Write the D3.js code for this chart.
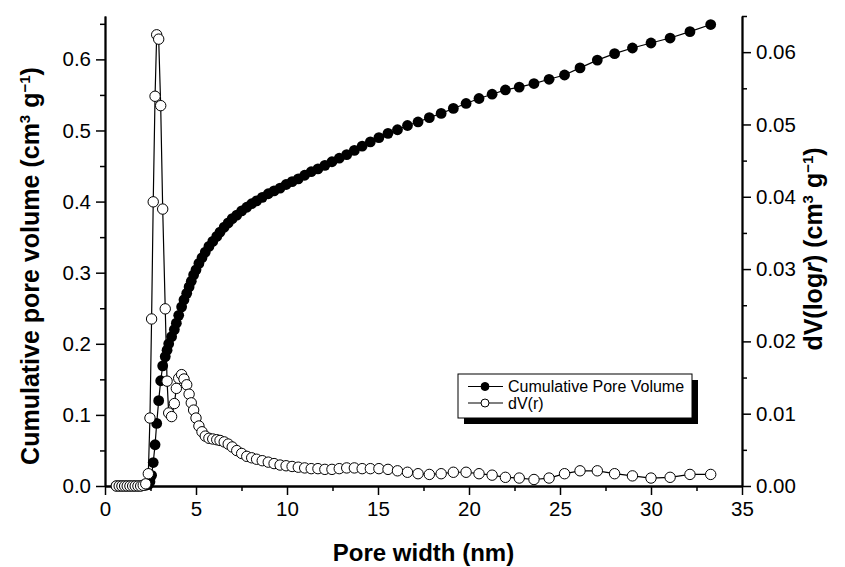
<!DOCTYPE html>
<html>
<head>
<meta charset="utf-8">
<script src="https://cdn.jsdelivr.net/npm/d3@7"></script>
<style>
  body { margin: 0; background: #fff; }
  text { font-family: "Liberation Sans", Arial, sans-serif; fill: #000; }
</style>
</head>
<body>
<div id="chart"></div>
<script>
// Pore width (nm), shared by both series
var poreWidth = [0.62, 0.78, 0.93, 1.08, 1.22, 1.37, 1.52, 1.66, 1.81, 1.96, 2.10, 2.24,
    2.38, 2.47, 2.56, 2.65, 2.75, 2.84, 2.95, 3.06, 3.17, 3.31, 3.41, 3.50, 3.66, 3.81, 3.92,
    4.05, 4.21, 4.34, 4.49, 4.62, 4.74, 4.87, 5.00, 5.16, 5.33, 5.51, 5.71, 5.92, 6.14, 6.32,
    6.55, 6.77, 6.99, 7.24, 7.51, 7.79, 8.06, 8.33, 8.64, 8.97, 9.29, 9.62, 9.95, 10.28, 10.62,
    10.97, 11.33, 11.70, 12.08, 12.47, 12.87, 13.28, 13.70, 14.13, 14.58, 15.05, 15.55, 16.07,
    16.62, 17.20, 17.82, 18.47, 19.14, 19.84, 20.55, 21.27, 22.00, 22.76, 23.57, 24.40, 25.25,
    26.10, 27.05, 28.00, 28.98, 30.00, 31.05, 32.14, 33.28];

// Cumulative pore volume (cm3/g), left axis
var cumVolume = [0, 0, 0, 0, 0, 0, 0, 0, 0, 0, 0.001, 0.001,
    0.002, 0.006, 0.015, 0.033, 0.058, 0.088, 0.120, 0.148, 0.169, 0.182, 0.191, 0.200, 0.210, 0.220, 0.229,
    0.240, 0.252, 0.262, 0.271, 0.280, 0.288, 0.297, 0.304, 0.313, 0.321, 0.329, 0.337, 0.344, 0.351, 0.357,
    0.364, 0.370, 0.376, 0.381, 0.387, 0.392, 0.397, 0.401, 0.406, 0.411, 0.415, 0.419, 0.424, 0.428, 0.432,
    0.437, 0.442, 0.446, 0.451, 0.456, 0.461, 0.466, 0.472, 0.478, 0.484, 0.490, 0.496, 0.501,
    0.507, 0.512, 0.518, 0.524, 0.531, 0.538, 0.545, 0.551, 0.557, 0.561, 0.566, 0.572, 0.578,
    0.588, 0.599, 0.608, 0.616, 0.623, 0.630, 0.639, 0.649];

// dV(log r) (cm3/g), right axis
var dVlogr = [0, 0, 0, 0, 0, 0, 0, 0, 0, 0, 0.0001, 0.0003,
    0.0017, 0.0094, 0.0231, 0.0393, 0.0539, 0.0624, 0.0618, 0.0526, 0.0383, 0.0245, 0.0145, 0.0101, 0.0096, 0.0114, 0.0135,
    0.0149, 0.0154, 0.0148, 0.0140, 0.0127, 0.0115, 0.0105, 0.0094, 0.0083, 0.0075, 0.0069, 0.0066, 0.0065, 0.0064, 0.0063,
    0.0061, 0.0058, 0.0054, 0.0049, 0.0045, 0.0041, 0.0039, 0.0037, 0.0035, 0.0033, 0.0031, 0.0029, 0.0028, 0.0027, 0.0026,
    0.0025, 0.0024, 0.0024, 0.0023, 0.0023, 0.0024, 0.0025, 0.0025, 0.0024, 0.0024, 0.0024, 0.0023, 0.0021,
    0.0019, 0.0017, 0.0016, 0.0017, 0.0019, 0.0019, 0.0017, 0.0015, 0.0012, 0.0011, 0.0009, 0.0011, 0.0017,
    0.0021, 0.0021, 0.0017, 0.0014, 0.0011, 0.0012, 0.0016, 0.0016];

// Tick values
var xTicks = [0, 5, 10, 15, 20, 25, 30, 35];
var xMinor = [2.5, 7.5, 12.5, 17.5, 22.5, 27.5, 32.5];
var leftTicks = [0, 0.1, 0.2, 0.3, 0.4, 0.5, 0.6];
var leftMinor = [0.05, 0.15, 0.25, 0.35, 0.45, 0.55, 0.65];
var rightTicks = [0, 0.01, 0.02, 0.03, 0.04, 0.05, 0.06];
var rightMinor = [0.005, 0.015, 0.025, 0.035, 0.045, 0.055, 0.065];

var legendNames = ["Cumulative Pore Volume", "dV(r)"];

var width = 845, height = 567;
var plotLeft = 105, plotRight = 742, plotTop = 16, plotBottom = 486;

var svg = d3.select("#chart")
    .append("svg")
    .attr("width", width)
    .attr("height", height);

// Scales
var x = d3.scaleLinear().domain([0, 35]).range([plotLeft, plotRight]);
var yLeft = d3.scaleLinear().domain([0, 0.661]).range([plotBottom, plotTop]);
var yRight = d3.scaleLinear().domain([0, 0.065]).range([plotBottom, plotTop]);

// Axes, major ticks with labels and minor ticks without
function styleAxis(g) {
    g.selectAll(".domain").attr("stroke-width", 1.8);
    g.selectAll(".tick line").attr("stroke-width", 1.5);
    g.selectAll("text").style("font-size", "20.5px");
}

svg.append("g")
    .attr("transform", "translate(0," + plotBottom + ")")
    .call(d3.axisBottom(x).tickValues(xTicks).tickSize(9).tickPadding(6).tickSizeOuter(0))
    .call(styleAxis);
svg.append("g")
    .attr("transform", "translate(0," + plotBottom + ")")
    .call(d3.axisBottom(x).tickValues(xMinor).tickSize(5).tickFormat("").tickSizeOuter(0))
    .call(styleAxis);

svg.append("g")
    .attr("transform", "translate(" + plotLeft + ",0)")
    .call(d3.axisLeft(yLeft).tickValues(leftTicks).tickFormat(d3.format(".1f")).tickSize(9).tickPadding(5).tickSizeOuter(0))
    .call(styleAxis);
svg.append("g")
    .attr("transform", "translate(" + plotLeft + ",0)")
    .call(d3.axisLeft(yLeft).tickValues(leftMinor).tickFormat("").tickSize(5).tickSizeOuter(0))
    .call(styleAxis);

svg.append("g")
    .attr("transform", "translate(" + plotRight + ",0)")
    .call(d3.axisRight(yRight).tickValues(rightTicks).tickFormat(d3.format(".2f")).tickSize(9).tickPadding(5).tickSizeOuter(0))
    .call(styleAxis);
svg.append("g")
    .attr("transform", "translate(" + plotRight + ",0)")
    .call(d3.axisRight(yRight).tickValues(rightMinor).tickFormat("").tickSize(5).tickSizeOuter(0))
    .call(styleAxis);

// Series
var cumData = poreWidth.map(function (d, i) { return { x: d, y: cumVolume[i] }; });
var dvData = poreWidth.map(function (d, i) { return { x: d, y: dVlogr[i] }; });

var cumLine = d3.line()
    .x(function (d) { return x(d.x); })
    .y(function (d) { return yLeft(d.y); });
var dvLine = d3.line()
    .x(function (d) { return x(d.x); })
    .y(function (d) { return yRight(d.y); });

svg.append("path")
    .datum(cumData)
    .attr("fill", "none")
    .attr("stroke", "#000")
    .attr("stroke-width", 1.2)
    .attr("d", cumLine);

svg.selectAll(".cum")
    .data(cumData)
    .enter()
    .append("circle")
    .attr("class", "cum")
    .attr("cx", function (d) { return x(d.x); })
    .attr("cy", function (d) { return yLeft(d.y); })
    .attr("r", 5.4)
    .attr("fill", "#000");

svg.append("path")
    .datum(dvData)
    .attr("fill", "none")
    .attr("stroke", "#000")
    .attr("stroke-width", 1.2)
    .attr("d", dvLine);

svg.selectAll(".dv")
    .data(dvData)
    .enter()
    .append("circle")
    .attr("class", "dv")
    .attr("cx", function (d) { return x(d.x); })
    .attr("cy", function (d) { return yRight(d.y); })
    .attr("r", 5.2)
    .attr("fill", "#fff")
    .attr("stroke", "#000")
    .attr("stroke-width", 1);

// Legend with drop shadow
var legend = svg.append("g").attr("transform", "translate(458,374)");
legend.append("rect")
    .attr("x", 6).attr("y", 6)
    .attr("width", 234).attr("height", 44)
    .attr("fill", "#000");
legend.append("rect")
    .attr("width", 234).attr("height", 44)
    .attr("fill", "#fff")
    .attr("stroke", "#000")
    .attr("stroke-width", 1);

legendNames.forEach(function (name, i) {
    var cy = 12.5 + i * 16.5;
    legend.append("line")
        .attr("x1", 10).attr("x2", 45)
        .attr("y1", cy).attr("y2", cy)
        .attr("stroke", "#000")
        .attr("stroke-width", 1.2);
    legend.append("circle")
        .attr("cx", 27).attr("cy", cy)
        .attr("r", 4)
        .attr("fill", i === 0 ? "#000" : "#fff")
        .attr("stroke", "#000")
        .attr("stroke-width", 1);
    legend.append("text")
        .attr("x", 50).attr("y", cy + 5.7)
        .style("font-size", "16px")
        .text(name);
});

// Axis titles
svg.append("text")
    .attr("x", (plotLeft + plotRight) / 2)
    .attr("y", 561)
    .attr("text-anchor", "middle")
    .style("font-size", "24px")
    .style("font-weight", "bold")
    .text("Pore width (nm)");

var leftTitle = svg.append("text")
    .attr("transform", "translate(39,266) rotate(-90)")
    .attr("text-anchor", "middle")
    .style("font-size", "25px")
    .style("font-weight", "bold");
leftTitle.append("tspan").text("Cumulative pore volume (cm");
leftTitle.append("tspan").attr("dy", -9).style("font-size", "15px").text("3");
leftTitle.append("tspan").attr("dy", 9).text(" g");
leftTitle.append("tspan").attr("dy", -9).style("font-size", "15px").text("\u22121");
leftTitle.append("tspan").attr("dy", 9).text(")");

var rightTitle = svg.append("text")
    .attr("transform", "translate(822,249) rotate(-90)")
    .attr("text-anchor", "middle")
    .style("font-size", "25px")
    .style("font-weight", "bold");
rightTitle.append("tspan").text("dV(log");
rightTitle.append("tspan").style("font-style", "italic").text("r");
rightTitle.append("tspan").text(") (cm");
rightTitle.append("tspan").attr("dy", -9).style("font-size", "15px").text("3");
rightTitle.append("tspan").attr("dy", 9).text(" g");
rightTitle.append("tspan").attr("dy", -9).style("font-size", "15px").text("\u22121");
rightTitle.append("tspan").attr("dy", 9).text(")");
</script>
</body>
</html>
